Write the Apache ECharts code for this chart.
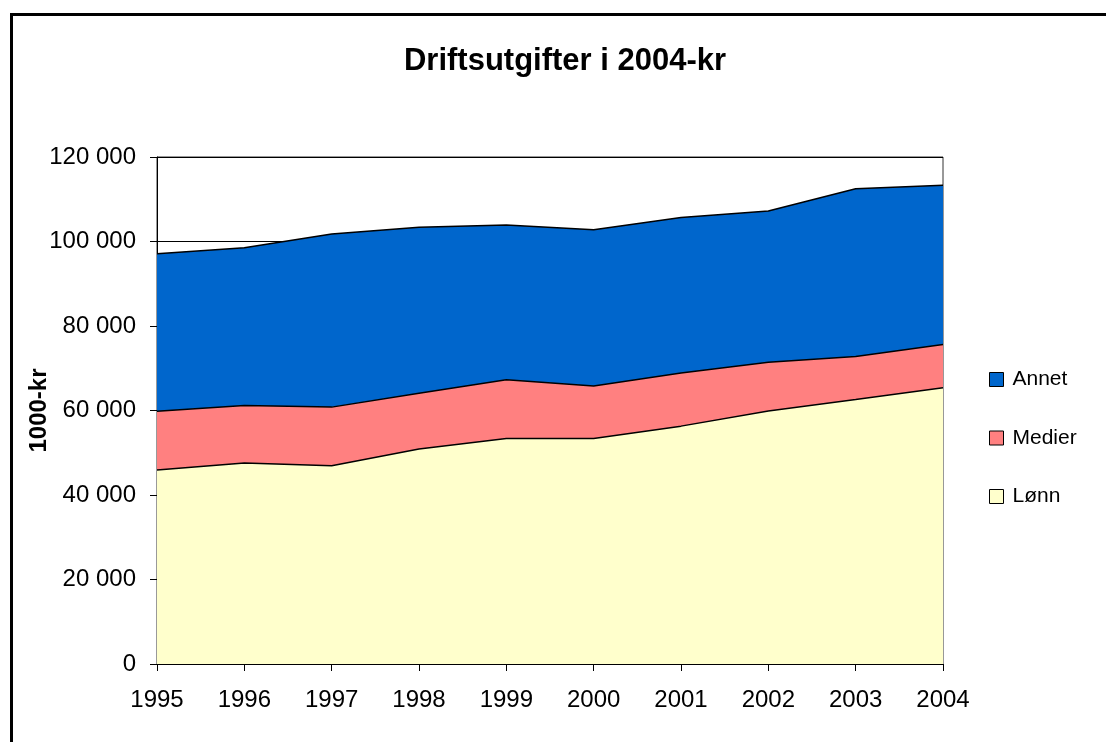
<!DOCTYPE html>
<html>
<head>
<meta charset="utf-8">
<script src="https://cdn.jsdelivr.net/npm/echarts@6/dist/echarts.min.js"></script>
<style>
html,body{margin:0;padding:0;background:#fff;}
#chart{width:1106px;height:742px;}
</style>
</head>
<body>
<div id="chart"></div>
<script>
const years = ['1995','1996','1997','1998','1999','2000','2001','2002','2003','2004'];
const lonn   = [45900, 47600, 46900, 50900, 53400, 53400, 56300, 59900, 62600, 65400];
const medier = [13900, 13600, 13900, 13200, 13900, 12400, 12600, 11500, 10200, 10200];
const annet  = [37300, 37300, 41000, 39300, 36600, 37000, 36800, 35800, 39700, 37700];
const yTicks = [0, 20000, 40000, 60000, 80000, 100000, 120000];

const font = 'Liberation Sans, Arial, sans-serif';
const chart = echarts.init(document.getElementById('chart'), null, {renderer:'canvas'});

function areaSeries(name, data, color) {
  return {
    name: name, type: 'line', stack: 'total', data: data,
    symbol: 'none', smooth: false,
    lineStyle: {color: '#000', width: 1.5},
    areaStyle: {color: color, opacity: 1},
    itemStyle: {color: color, borderColor: '#000', borderWidth: 1}
  };
}

chart.setOption({
  animation: false,
  backgroundColor: '#fff',
  title: {
    text: 'Driftsutgifter i 2004-kr',
    left: 565, top: 46, textAlign: 'center', padding: 0,
    textStyle: {fontFamily: font, fontSize: 31, fontWeight: 'bold', color: '#000'}
  },
  graphic: [{
    type: 'rect', left: 9, top: 12, silent: true,
    shape: {width: 1110, height: 740},
    style: {fill: 'none', stroke: '#000', lineWidth: 3}
  }],
  grid: {
    left: 157, top: 157, right: 163, bottom: 78,
    show: true, borderColor: '#333', borderWidth: 1, backgroundColor: 'transparent'
  },
  legend: {
    orient: 'vertical', left: 989, top: 369, padding: 0,
    itemWidth: 14, itemHeight: 14, itemGap: 37.5,
    icon: 'rect',
    textStyle: {fontFamily: font, fontSize: 21, color: '#000', padding: [0,0,0,4]},
    data: [
      {name: 'Annet', itemStyle: {color: '#0066CC', borderColor: '#000', borderWidth: 1}},
      {name: 'Medier', itemStyle: {color: '#FF8080', borderColor: '#000', borderWidth: 1}},
      {name: 'Lønn', itemStyle: {color: '#FFFFCC', borderColor: '#000', borderWidth: 1}}
    ]
  },
  xAxis: {
    type: 'category', data: years, boundaryGap: false,
    axisLine: {lineStyle: {color: '#000', width: 1}},
    axisTick: {show: true, length: 7, lineStyle: {color: '#000'}},
    axisLabel: {fontFamily: font, fontSize: 24, color: '#000', margin: 24},
    splitLine: {show: false}
  },
  yAxis: {
    type: 'value', min: yTicks[0], max: yTicks[yTicks.length-1], interval: yTicks[1]-yTicks[0],
    name: '1000-kr', nameLocation: 'middle', nameGap: 106, nameRotate: 90,
    nameMoveOverlap: false,
    nameTextStyle: {fontFamily: font, fontSize: 24, fontWeight: 'bold', color: '#000'},
    axisLine: {show: true, lineStyle: {color: '#000', width: 1}},
    axisTick: {show: true, length: 7, lineStyle: {color: '#000'}},
    axisLabel: {
      fontFamily: font, fontSize: 24, color: '#000', margin: 21,
      formatter: v => String(v).replace(/\B(?=(\d{3})+(?!\d))/g, ' ')
    },
    splitLine: {show: true, lineStyle: {color: '#000', width: 1}}
  },
  series: [
    areaSeries('Lønn', lonn, '#FFFFCC'),
    areaSeries('Medier', medier, '#FF8080'),
    areaSeries('Annet', annet, '#0066CC')
  ]
});
</script>
</body>
</html>
